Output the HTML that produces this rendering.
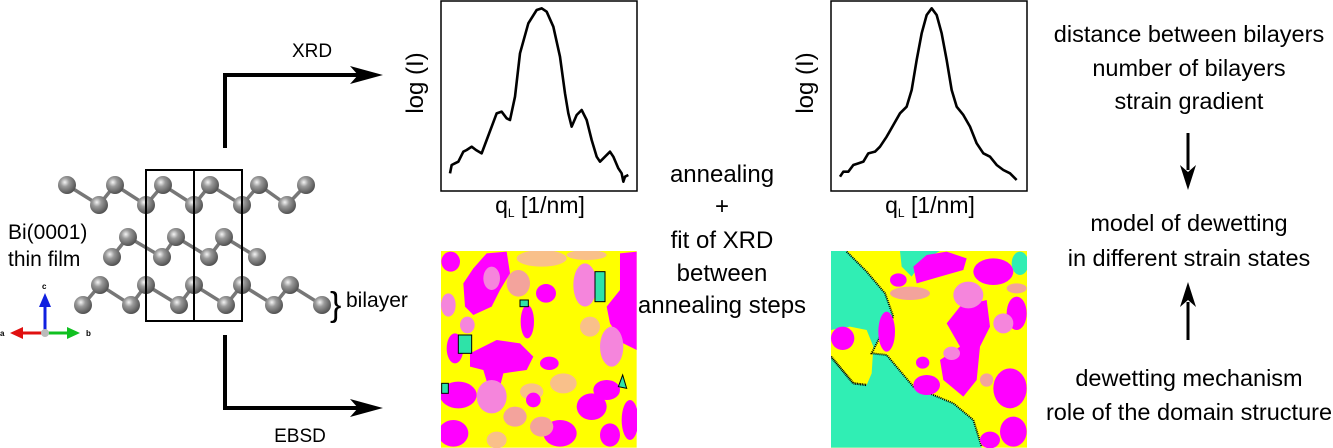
<!DOCTYPE html>
<html><head><meta charset="utf-8"><style>
html,body{margin:0;padding:0;background:#fff;overflow:hidden;width:1333px;height:448px;}
svg{display:block;font-family:"Liberation Sans",Arial,sans-serif;}
</style></head><body>
<svg width="1333" height="448" viewBox="0 0 1333 448" xmlns="http://www.w3.org/2000/svg">
<defs>
<radialGradient id="at" cx="0.38" cy="0.35" r="0.7">
<stop offset="0" stop-color="#f4f4f4"/><stop offset="0.35" stop-color="#9a9a9a"/><stop offset="1" stop-color="#4a4a4a"/>
</radialGradient>
<clipPath id="cl"><rect x="441" y="251" width="196" height="197"/></clipPath>
<clipPath id="cr"><rect x="831" y="251" width="196" height="197"/></clipPath>
</defs>
<!-- bonds -->
<g stroke="#777" stroke-width="3.5" fill="none">
<polyline points="67,185 99,205 115,185 146,205 163,185 194,205 210,185 242,205 259,185 287,205 306,185"/>
<polyline points="112,257 128,237 162,257 176,237 209,257 224,237 257,257"/>
<polyline points="83,305 100,285 131,305 146,285 179,305 194,285 226,305 242,285 274,305 290,285 322,305"/>
</g>
<g fill="url(#at)">
<circle cx="67" cy="185" r="9"/><circle cx="115" cy="185" r="9"/><circle cx="163" cy="185" r="9"/><circle cx="210" cy="185" r="9"/><circle cx="259" cy="185" r="9"/><circle cx="306" cy="185" r="9"/>
<circle cx="99" cy="205" r="9"/><circle cx="146" cy="205" r="9"/><circle cx="194" cy="205" r="9"/><circle cx="242" cy="205" r="9"/><circle cx="287" cy="205" r="9"/>
<circle cx="128" cy="237" r="9"/><circle cx="176" cy="237" r="9"/><circle cx="224" cy="237" r="9"/>
<circle cx="112" cy="257" r="9"/><circle cx="162" cy="257" r="9"/><circle cx="209" cy="257" r="9"/><circle cx="257" cy="257" r="9"/>
<circle cx="100" cy="285" r="9"/><circle cx="146" cy="285" r="9"/><circle cx="194" cy="285" r="9"/><circle cx="242" cy="285" r="9"/><circle cx="290" cy="285" r="9"/>
<circle cx="83" cy="305" r="9"/><circle cx="131" cy="305" r="9"/><circle cx="179" cy="305" r="9"/><circle cx="226" cy="305" r="9"/><circle cx="274" cy="305" r="9"/><circle cx="322" cy="305" r="9"/>
</g>
<rect x="146" y="170" width="48" height="151" fill="none" stroke="#000" stroke-width="2"/>
<rect x="194" y="170" width="48" height="151" fill="none" stroke="#000" stroke-width="2"/>
<text x="8" y="239" font-size="21">Bi(0001)</text>
<text x="8" y="266" font-size="21">thin film</text>
<text x="330" y="316" font-size="34">}</text>
<text x="346" y="307" font-size="21">bilayer</text>
<!-- axes triad -->
<line x1="45" y1="333" x2="45" y2="306" stroke="#1020e0" stroke-width="3"/><polygon points="39,307 51,307 45,293" fill="#1020e0"/>
<line x1="45" y1="333" x2="22" y2="333" stroke="#e01010" stroke-width="3"/><polygon points="23,327 23,339 10,333" fill="#e01010"/>
<line x1="45" y1="333" x2="68" y2="333" stroke="#10c020" stroke-width="3"/><polygon points="67,327 67,339 80,333" fill="#10c020"/>
<circle cx="45" cy="333" r="4" fill="#bbb"/>
<text x="42" y="289" font-size="8" font-weight="bold">c</text>
<text x="0" y="336" font-size="8" font-weight="bold">a</text>
<text x="86" y="336" font-size="8" font-weight="bold">b</text>
<!-- L arrows -->
<polyline points="225,148 225,75 360,75" fill="none" stroke="#000" stroke-width="4"/>
<polygon points="350,66 383,75 350,84 358,75" fill="#000"/>
<polyline points="225,335 225,408 360,408" fill="none" stroke="#000" stroke-width="4"/>
<polygon points="350,399 383,408 350,417 358,408" fill="#000"/>
<text x="312" y="57" font-size="19" text-anchor="middle">XRD</text>
<text x="300" y="442" font-size="19" text-anchor="middle">EBSD</text>
<!-- plots -->
<rect x="441" y="1" width="196" height="190" fill="none" stroke="#000" stroke-width="1.5"/>
<rect x="831" y="1" width="196" height="190" fill="none" stroke="#000" stroke-width="1.5"/>
<g transform="translate(400,0) scale(0.33333)">
<polyline vector-effect="non-scaling-stroke" fill="none" stroke="#000" stroke-width="2.6" stroke-linejoin="round" points="150,520 155,495 165,490 175,485 190,455 200,450 215,440 228,450 245,460 260,420 275,380 290,340 305,335 320,355 330,360 345,290 360,160 385,70 410,30 425,25 440,35 460,80 480,170 495,280 505,340 515,380 530,345 545,330 560,360 575,420 590,470 600,485 615,470 630,455 640,470 655,505 665,520 670,545 675,530 685,525"/>
</g>
<g transform="translate(790,0) scale(0.33333)">
<polyline vector-effect="non-scaling-stroke" fill="none" stroke="#000" stroke-width="2.6" stroke-linejoin="round" points="150,530 160,515 175,515 190,495 205,490 220,485 235,460 255,455 270,440 290,410 310,375 330,340 350,320 365,270 380,180 395,100 410,45 425,25 440,45 455,100 470,180 485,270 500,320 520,345 540,380 560,430 580,460 600,470 620,495 640,510 660,520 680,540"/>
</g>
<text transform="translate(423,83) rotate(-90)" font-size="24" text-anchor="middle">log (I)</text>
<text transform="translate(813,83) rotate(-90)" font-size="24" text-anchor="middle">log (I)</text>
<text x="540" y="213" font-size="23" text-anchor="middle">q<tspan font-size="12" dy="4">L</tspan><tspan dy="-4"> [1/nm]</tspan></text>
<text x="930" y="213" font-size="23" text-anchor="middle">q<tspan font-size="12" dy="4">L</tspan><tspan dy="-4"> [1/nm]</tspan></text>
<!-- middle text -->
<g font-size="24" text-anchor="middle">
<text x="722" y="182">annealing</text>
<text x="722" y="214">+</text>
<text x="722" y="248">fit of XRD</text>
<text x="722" y="281">between</text>
<text x="722" y="313">annealing steps</text>
</g>
<!-- right text -->
<g font-size="23.5" text-anchor="middle">
<text x="1189" y="42">distance between bilayers</text>
<text x="1189" y="76">number of bilayers</text>
<text x="1189" y="109">strain gradient</text>
<text x="1189" y="231">model of dewetting</text>
<text x="1189" y="266">in different strain states</text>
<text x="1189" y="386">dewetting mechanism</text>
<text x="1189" y="420">role of the domain structure</text>
</g>
<line x1="1188" y1="133" x2="1188" y2="170" stroke="#000" stroke-width="3"/>
<polygon points="1180,165 1188,190 1196,165 1188,172" fill="#000"/>
<line x1="1188" y1="340" x2="1188" y2="302" stroke="#000" stroke-width="3"/>
<polygon points="1180,307 1188,282 1196,307 1188,300" fill="#000"/>
<!-- EBSD left -->
<g clip-path="url(#cl)"><g transform="translate(420,240) scale(0.33333)">
<rect x="62" y="33" width="588" height="590" fill="#ffff00"/>
<g fill="#f9c08a">
<ellipse cx="365" cy="55" rx="75" ry="25"/><ellipse cx="430" cy="430" rx="40" ry="30"/><ellipse cx="500" cy="45" rx="60" ry="15"/><ellipse cx="510" cy="260" rx="30" ry="30"/><ellipse cx="335" cy="455" rx="35" ry="25"/><ellipse cx="230" cy="600" rx="30" ry="25"/>
</g>
<g fill="#ff00ff">
<ellipse cx="92" cy="65" rx="28" ry="30"/>
<path d="M130,130 L160,85 L200,40 L260,35 L270,100 L240,150 L215,200 L160,225 L135,200Z"/>
<ellipse cx="322" cy="245" rx="20" ry="50"/>
<ellipse cx="378" cy="160" rx="30" ry="28"/>
<path d="M600,40 L650,35 L650,330 L610,310 L570,250 L560,200 L600,150Z"/>
<path d="M150,340 L230,300 L300,310 L340,350 L320,390 L250,400 L240,440 L205,440 L190,390 L150,380Z"/>
<ellipse cx="388" cy="370" rx="28" ry="20"/>
<ellipse cx="115" cy="465" rx="55" ry="40"/>
<ellipse cx="100" cy="580" rx="45" ry="40"/>
<ellipse cx="340" cy="480" rx="22" ry="22"/>
<ellipse cx="515" cy="500" rx="45" ry="40"/>
<ellipse cx="560" cy="450" rx="40" ry="30"/>
<ellipse cx="630" cy="540" rx="25" ry="60"/>
<ellipse cx="420" cy="580" rx="50" ry="40"/>
<ellipse cx="570" cy="585" rx="30" ry="35"/>
<ellipse cx="105" cy="325" rx="25" ry="45"/>
</g>
<g fill="#f585dc">
<ellipse cx="215" cy="115" rx="25" ry="35"/><ellipse cx="495" cy="135" rx="35" ry="65"/><ellipse cx="215" cy="470" rx="45" ry="50"/><ellipse cx="575" cy="320" rx="35" ry="60"/><ellipse cx="85" cy="195" rx="22" ry="35"/><ellipse cx="142" cy="255" rx="22" ry="25"/>
</g>
<g fill="#f3a39c"><ellipse cx="295" cy="130" rx="35" ry="40"/><ellipse cx="285" cy="530" rx="35" ry="30"/><ellipse cx="365" cy="560" rx="35" ry="30"/></g>
<g fill="#2ee3a8" stroke="#000" stroke-width="3"><rect x="525" y="95" width="30" height="90"/><rect x="115" y="285" width="40" height="55"/><rect x="300" y="180" width="25" height="20"/><rect x="65" y="430" width="20" height="30"/><polygon points="595,440 608,405 620,445"/></g>
</g></g>
<!-- EBSD right -->
<g clip-path="url(#cr)"><g transform="translate(800,240) scale(0.33333)">
<rect x="93" y="33" width="588" height="590" fill="#ffff00"/>
<path d="M93,33 L140,33 L200,95 L255,160 L280,230 L240,290 L215,340 L260,345 L340,440 L460,490 L520,540 L545,623 L93,623Z" fill="#30eeb4"/>
<path d="M300,33 L420,33 L370,60 L335,110 L305,80Z" fill="#30eeb4"/>
<ellipse cx="660" cy="70" rx="25" ry="35" fill="#30eeb4"/>
<path d="M93,270 L150,260 L200,270 L220,320 L215,400 L200,435 L160,430 L93,350Z" fill="#ffff00"/>
<polyline points="140,35 200,95 255,160 280,230 240,290 215,340 260,345 340,440 460,490 520,540 545,620" fill="none" stroke="#000" stroke-width="6" stroke-dasharray="3,3"/>
<polyline points="93,350 160,430 200,435" fill="none" stroke="#000" stroke-width="7" stroke-dasharray="3,2"/>
<g fill="#ff00ff">
<ellipse cx="128" cy="295" rx="35" ry="35"/>
<path d="M340,80 L380,45 L440,35 L500,55 L490,90 L420,110 L350,130Z"/>
<ellipse cx="580" cy="95" rx="60" ry="40"/>
<path d="M440,250 L480,200 L560,180 L570,260 L540,320 L530,420 L490,470 L430,420 L420,360 L480,320Z"/>
<ellipse cx="260" cy="275" rx="25" ry="60"/>
<ellipse cx="368" cy="368" rx="20" ry="18"/>
<ellipse cx="380" cy="435" rx="40" ry="30"/>
<ellipse cx="630" cy="445" rx="50" ry="60"/>
<ellipse cx="640" cy="575" rx="40" ry="45"/>
<ellipse cx="570" cy="600" rx="30" ry="25"/>
<ellipse cx="650" cy="220" rx="30" ry="50"/>
<ellipse cx="295" cy="120" rx="25" ry="20"/>
</g>
<g fill="#f585dc"><ellipse cx="505" cy="165" rx="45" ry="40"/><ellipse cx="610" cy="250" rx="30" ry="30"/><ellipse cx="455" cy="340" rx="25" ry="20"/></g>
<g fill="#f3a39c"><ellipse cx="330" cy="160" rx="60" ry="20"/><ellipse cx="650" cy="145" rx="30" ry="15"/><ellipse cx="560" cy="420" rx="20" ry="20"/></g>
</g></g>
</svg>
</body></html>
